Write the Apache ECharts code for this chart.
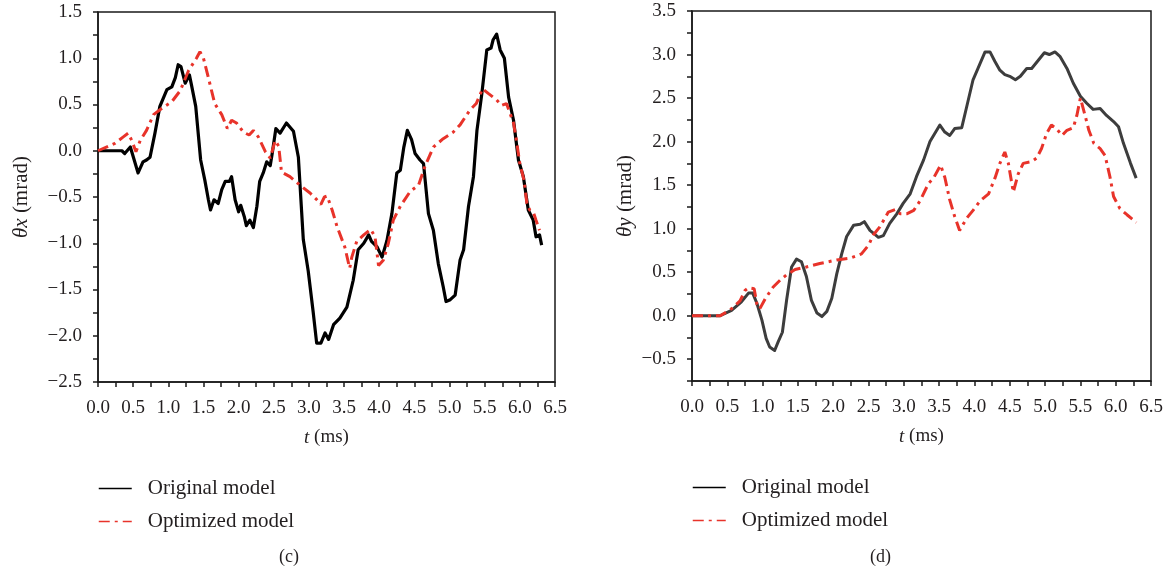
<!DOCTYPE html>
<html>
<head>
<meta charset="utf-8">
<script src="https://cdn.jsdelivr.net/npm/echarts@6/dist/echarts.min.js"></script>
<style>
html,body{margin:0;padding:0;background:#fff;}
#chart{width:1167px;height:574px;}
</style>
</head>
<body>
<div id="chart"></div>
<script>
// ---- Data (t in ms, value in mrad) ----
var xTickLabels = ['0.0','0.5','1.0','1.5','2.0','2.5','3.0','3.5','4.0','4.5','5.0','5.5','6.0','6.5'];
var seriesNames = ['Original model', 'Optimized model'];

// (c) θx
var cOriginal = [
 [0,0],[0.34,0],[0.38,-0.03],[0.46,0.04],[0.57,-0.24],[0.64,-0.12],[0.69,-0.10],[0.74,-0.07],
 [0.81,0.19],[0.88,0.48],[0.98,0.66],[1.05,0.69],[1.10,0.79],[1.14,0.93],[1.18,0.91],[1.24,0.73],
 [1.30,0.82],[1.33,0.71],[1.39,0.48],[1.46,-0.10],[1.52,-0.32],[1.57,-0.53],[1.60,-0.64],[1.65,-0.53],
 [1.71,-0.57],[1.76,-0.42],[1.81,-0.33],[1.87,-0.33],[1.90,-0.28],[1.95,-0.53],[2.00,-0.66],[2.03,-0.59],
 [2.08,-0.71],[2.11,-0.81],[2.16,-0.75],[2.21,-0.83],[2.26,-0.60],[2.30,-0.33],[2.35,-0.24],[2.40,-0.12],
 [2.45,-0.16],[2.48,-0.02],[2.53,0.24],[2.59,0.19],[2.68,0.30],[2.78,0.21],[2.85,-0.07],[2.92,-0.96],
 [2.99,-1.30],[3.06,-1.74],[3.11,-2.08],[3.17,-2.08],[3.23,-1.97],[3.28,-2.04],[3.35,-1.88],[3.44,-1.81],
 [3.54,-1.69],[3.63,-1.40],[3.70,-1.07],[3.78,-1.00],[3.85,-0.91],[3.89,-0.98],[3.97,-1.04],[4.04,-1.15],
 [4.11,-0.97],[4.18,-0.68],[4.25,-0.24],[4.30,-0.21],[4.35,0.04],[4.40,0.22],[4.46,0.12],[4.51,-0.03],
 [4.58,-0.10],[4.63,-0.14],[4.70,-0.68],[4.77,-0.86],[4.84,-1.22],[4.91,-1.47],[4.95,-1.63],[5.01,-1.61],
 [5.08,-1.56],[5.15,-1.18],[5.20,-1.07],[5.27,-0.60],[5.34,-0.28],[5.39,0.22],[5.46,0.62],[5.53,1.09],
 [5.59,1.11],[5.62,1.20],[5.67,1.26],[5.72,1.09],[5.78,1.00],[5.84,0.58],[5.91,0.33],[5.98,-0.10],
 [6.05,-0.28],[6.12,-0.64],[6.19,-0.75],[6.23,-0.93],[6.28,-0.91],[6.31,-1.02]
];
var cOptimized = [
 [0,0],[0.24,0.08],[0.36,0.15],[0.43,0.19],[0.48,0.11],[0.54,-0.01],[0.60,0.11],[0.69,0.22],
 [0.79,0.39],[0.91,0.46],[1.05,0.53],[1.17,0.65],[1.29,0.87],[1.40,1.00],[1.45,1.07],[1.50,1.00],
 [1.57,0.79],[1.66,0.51],[1.76,0.39],[1.84,0.24],[1.90,0.33],[1.97,0.30],[2.07,0.20],[2.15,0.17],
 [2.21,0.22],[2.28,0.15],[2.38,-0.01],[2.45,-0.08],[2.52,0.11],[2.57,0.05],[2.61,-0.23],[2.73,-0.28],
 [2.87,-0.37],[3.02,-0.46],[3.10,-0.52],[3.17,-0.58],[3.22,-0.50],[3.26,-0.49],[3.33,-0.64],[3.40,-0.82],
 [3.51,-1.04],[3.58,-1.27],[3.61,-1.15],[3.68,-0.98],[3.78,-0.91],[3.88,-0.85],[3.94,-0.93],[3.99,-1.24],
 [4.06,-1.18],[4.13,-1.00],[4.20,-0.75],[4.30,-0.60],[4.44,-0.44],[4.56,-0.37],[4.65,-0.17],[4.77,0.04],
 [4.91,0.13],[5.05,0.20],[5.15,0.28],[5.29,0.44],[5.38,0.51],[5.47,0.67],[5.55,0.62],[5.67,0.55],
 [5.74,0.49],[5.81,0.51],[5.91,0.30],[5.95,0.12],[6.00,-0.14],[6.06,-0.32],[6.10,-0.57],[6.14,-0.64],
 [6.19,-0.66],[6.23,-0.75],[6.28,-0.86]
];

// (d) θy
var dOriginal = [
 [0,0],[0.40,0],[0.56,0.06],[0.70,0.16],[0.80,0.26],[0.86,0.26],[0.92,0.14],[0.99,-0.05],
 [1.05,-0.26],[1.10,-0.36],[1.17,-0.40],[1.22,-0.30],[1.28,-0.19],[1.34,0.18],[1.41,0.56],[1.48,0.65],
 [1.55,0.62],[1.62,0.45],[1.69,0.18],[1.77,0.03],[1.84,-0.01],[1.91,0.05],[1.98,0.20],[2.05,0.48],
 [2.12,0.71],[2.19,0.91],[2.29,1.04],[2.38,1.05],[2.44,1.08],[2.52,0.98],[2.64,0.90],[2.71,0.92],
 [2.80,1.06],[2.90,1.17],[2.99,1.29],[3.09,1.40],[3.18,1.60],[3.28,1.79],[3.37,2.00],[3.51,2.19],
 [3.58,2.11],[3.65,2.07],[3.72,2.15],[3.82,2.16],[3.89,2.40],[3.98,2.71],[4.05,2.84],[4.15,3.03],
 [4.22,3.03],[4.29,2.92],[4.36,2.82],[4.43,2.77],[4.50,2.75],[4.58,2.71],[4.65,2.75],[4.74,2.84],
 [4.81,2.84],[4.91,2.94],[4.99,3.02],[5.06,3.00],[5.14,3.03],[5.21,2.98],[5.31,2.84],[5.40,2.67],
 [5.50,2.52],[5.59,2.44],[5.68,2.37],[5.78,2.38],[5.87,2.30],[5.97,2.23],[6.04,2.17],[6.11,1.98],
 [6.21,1.75],[6.29,1.58]
];
var dOptimized = [
 [0,0],[0.40,0],[0.56,0.08],[0.68,0.17],[0.75,0.29],[0.80,0.32],[0.88,0.31],[0.92,0.13],
 [0.96,0.08],[1.04,0.20],[1.15,0.33],[1.25,0.41],[1.34,0.47],[1.46,0.53],[1.62,0.56],[1.81,0.60],
 [2.05,0.64],[2.24,0.66],[2.40,0.71],[2.50,0.81],[2.57,0.93],[2.66,1.02],[2.78,1.19],[2.88,1.22],
 [2.95,1.17],[3.04,1.17],[3.14,1.21],[3.23,1.32],[3.35,1.52],[3.42,1.58],[3.52,1.73],[3.58,1.59],
 [3.65,1.33],[3.72,1.14],[3.79,0.98],[3.89,1.12],[3.98,1.21],[4.08,1.32],[4.20,1.40],[4.29,1.58],
 [4.36,1.75],[4.43,1.88],[4.48,1.75],[4.55,1.42],[4.62,1.63],[4.69,1.75],[4.81,1.77],[4.88,1.81],
 [4.95,1.92],[5.02,2.09],[5.09,2.19],[5.16,2.15],[5.24,2.07],[5.31,2.13],[5.40,2.16],[5.45,2.30],
 [5.50,2.50],[5.57,2.29],[5.62,2.13],[5.69,1.98],[5.78,1.92],[5.85,1.84],[5.92,1.59],[5.97,1.37],
 [6.06,1.23],[6.16,1.16],[6.25,1.10],[6.29,1.07]
];

// ---- Chart ----
var FONT = '"Liberation Serif", "DejaVu Serif", serif';
var TXT = '#231f20';
var AX = '#1a1a1a';

function halfLabel(v) {
  if (Math.abs(v * 2 - Math.round(v * 2)) > 1e-6) return '';
  return v.toFixed(1).replace('-', '\u2212');
}
function xLabel(v) {
  if (Math.abs(v * 2 - Math.round(v * 2)) > 1e-6) return '';
  return xTickLabels[Math.round(v * 2)];
}

function xAxisOf(gi) {
  return {
    type: 'value', gridIndex: gi, min: 0, max: 6.5, interval: 0.25,
    name: '{i|t} (ms)', nameLocation: 'middle', nameGap: 46,
    nameTextStyle: { fontFamily: FONT, fontSize: 19, color: TXT, rich: { i: { fontFamily: FONT, fontSize: 19, fontStyle: 'italic', color: TXT } } },
    axisLine: { show: true, onZero: false, lineStyle: { color: AX, width: 1.5 } },
    axisTick: { show: true, inside: false, length: 5, lineStyle: { color: AX, width: 1.5 } },
    axisLabel: { fontFamily: FONT, fontSize: 19, color: TXT, margin: 17, formatter: xLabel, showMinLabel: true, showMaxLabel: true },
    splitLine: { show: false }
  };
}
function yAxisOf(gi, min, max, sym, gap) {
  return {
    type: 'value', gridIndex: gi, min: min, max: max, interval: 0.25,
    name: '{i|\u03b8' + sym + '} (mrad)', nameLocation: 'middle', nameGap: gap,
    nameTextStyle: { fontFamily: FONT, fontSize: 21, color: TXT, rich: { i: { fontFamily: FONT, fontSize: 21, fontStyle: 'italic', color: TXT } } },
    axisLine: { show: true, onZero: false, lineStyle: { color: AX, width: 1.5 } },
    axisTick: { show: true, inside: false, length: 5, lineStyle: { color: AX, width: 1.5 } },
    axisLabel: { fontFamily: FONT, fontSize: 19, color: TXT, margin: 16, formatter: halfLabel, showMinLabel: true, showMaxLabel: true },
    splitLine: { show: false }
  };
}

var DASH = [11, 5, 3, 5];

function legendAt(left, top) {
  return {
    left: left, top: top, orient: 'vertical', itemWidth: 33, itemHeight: 21, itemGap: 12,
    data: seriesNames, selectedMode: false,
    textStyle: { fontFamily: FONT, fontSize: 21, color: TXT, padding: [0, 0, 0, 11] },
    itemStyle: { opacity: 0, borderWidth: 0 },
    lineStyle: { width: 1.5 }
  };
}

var option = {
  animation: false,
  backgroundColor: '#fff',
  grid: [
    { left: 98, top: 12, width: 457, height: 370, show: true, borderColor: AX, borderWidth: 1.5, backgroundColor: 'transparent' },
    { left: 692, top: 11, width: 459, height: 370, show: true, borderColor: AX, borderWidth: 1.5, backgroundColor: 'transparent' }
  ],
  xAxis: [xAxisOf(0), xAxisOf(1)],
  yAxis: [yAxisOf(0, -2.5, 1.5, 'x', 66), yAxisOf(1, -0.75, 3.5, 'y', 56)],
  legend: [legendAt(93, 473), legendAt(687, 472)],
  title: [
    { text: '(c)', left: 274, top: 543, textStyle: { fontFamily: FONT, fontSize: 18, fontWeight: 'normal', color: TXT } },
    { text: '(d)', left: 865, top: 543, textStyle: { fontFamily: FONT, fontSize: 18, fontWeight: 'normal', color: TXT } }
  ],
  series: [
    { name: seriesNames[0], type: 'line', xAxisIndex: 0, yAxisIndex: 0, data: cOriginal, symbol: 'none',
      lineStyle: { color: '#000', width: 3.2, join: 'round' }, itemStyle: { color: '#333' }, z: 2 },
    { name: seriesNames[1], type: 'line', xAxisIndex: 0, yAxisIndex: 0, data: cOptimized, symbol: 'none',
      lineStyle: { color: '#e8332a', width: 3, type: DASH }, itemStyle: { color: '#e8332a' }, z: 3 },
    { name: seriesNames[0], type: 'line', xAxisIndex: 1, yAxisIndex: 1, data: dOriginal, symbol: 'none',
      lineStyle: { color: '#3d3d3d', width: 3, join: 'round' }, itemStyle: { color: '#3d3d3d' }, z: 2 },
    { name: seriesNames[1], type: 'line', xAxisIndex: 1, yAxisIndex: 1, data: dOptimized, symbol: 'none',
      lineStyle: { color: '#e8332a', width: 3, type: DASH }, itemStyle: { color: '#e8332a' }, z: 3 }
  ]
};

var chart = echarts.init(document.getElementById('chart'), null, { renderer: 'canvas' });
chart.setOption(option);
</script>
</body>
</html>
